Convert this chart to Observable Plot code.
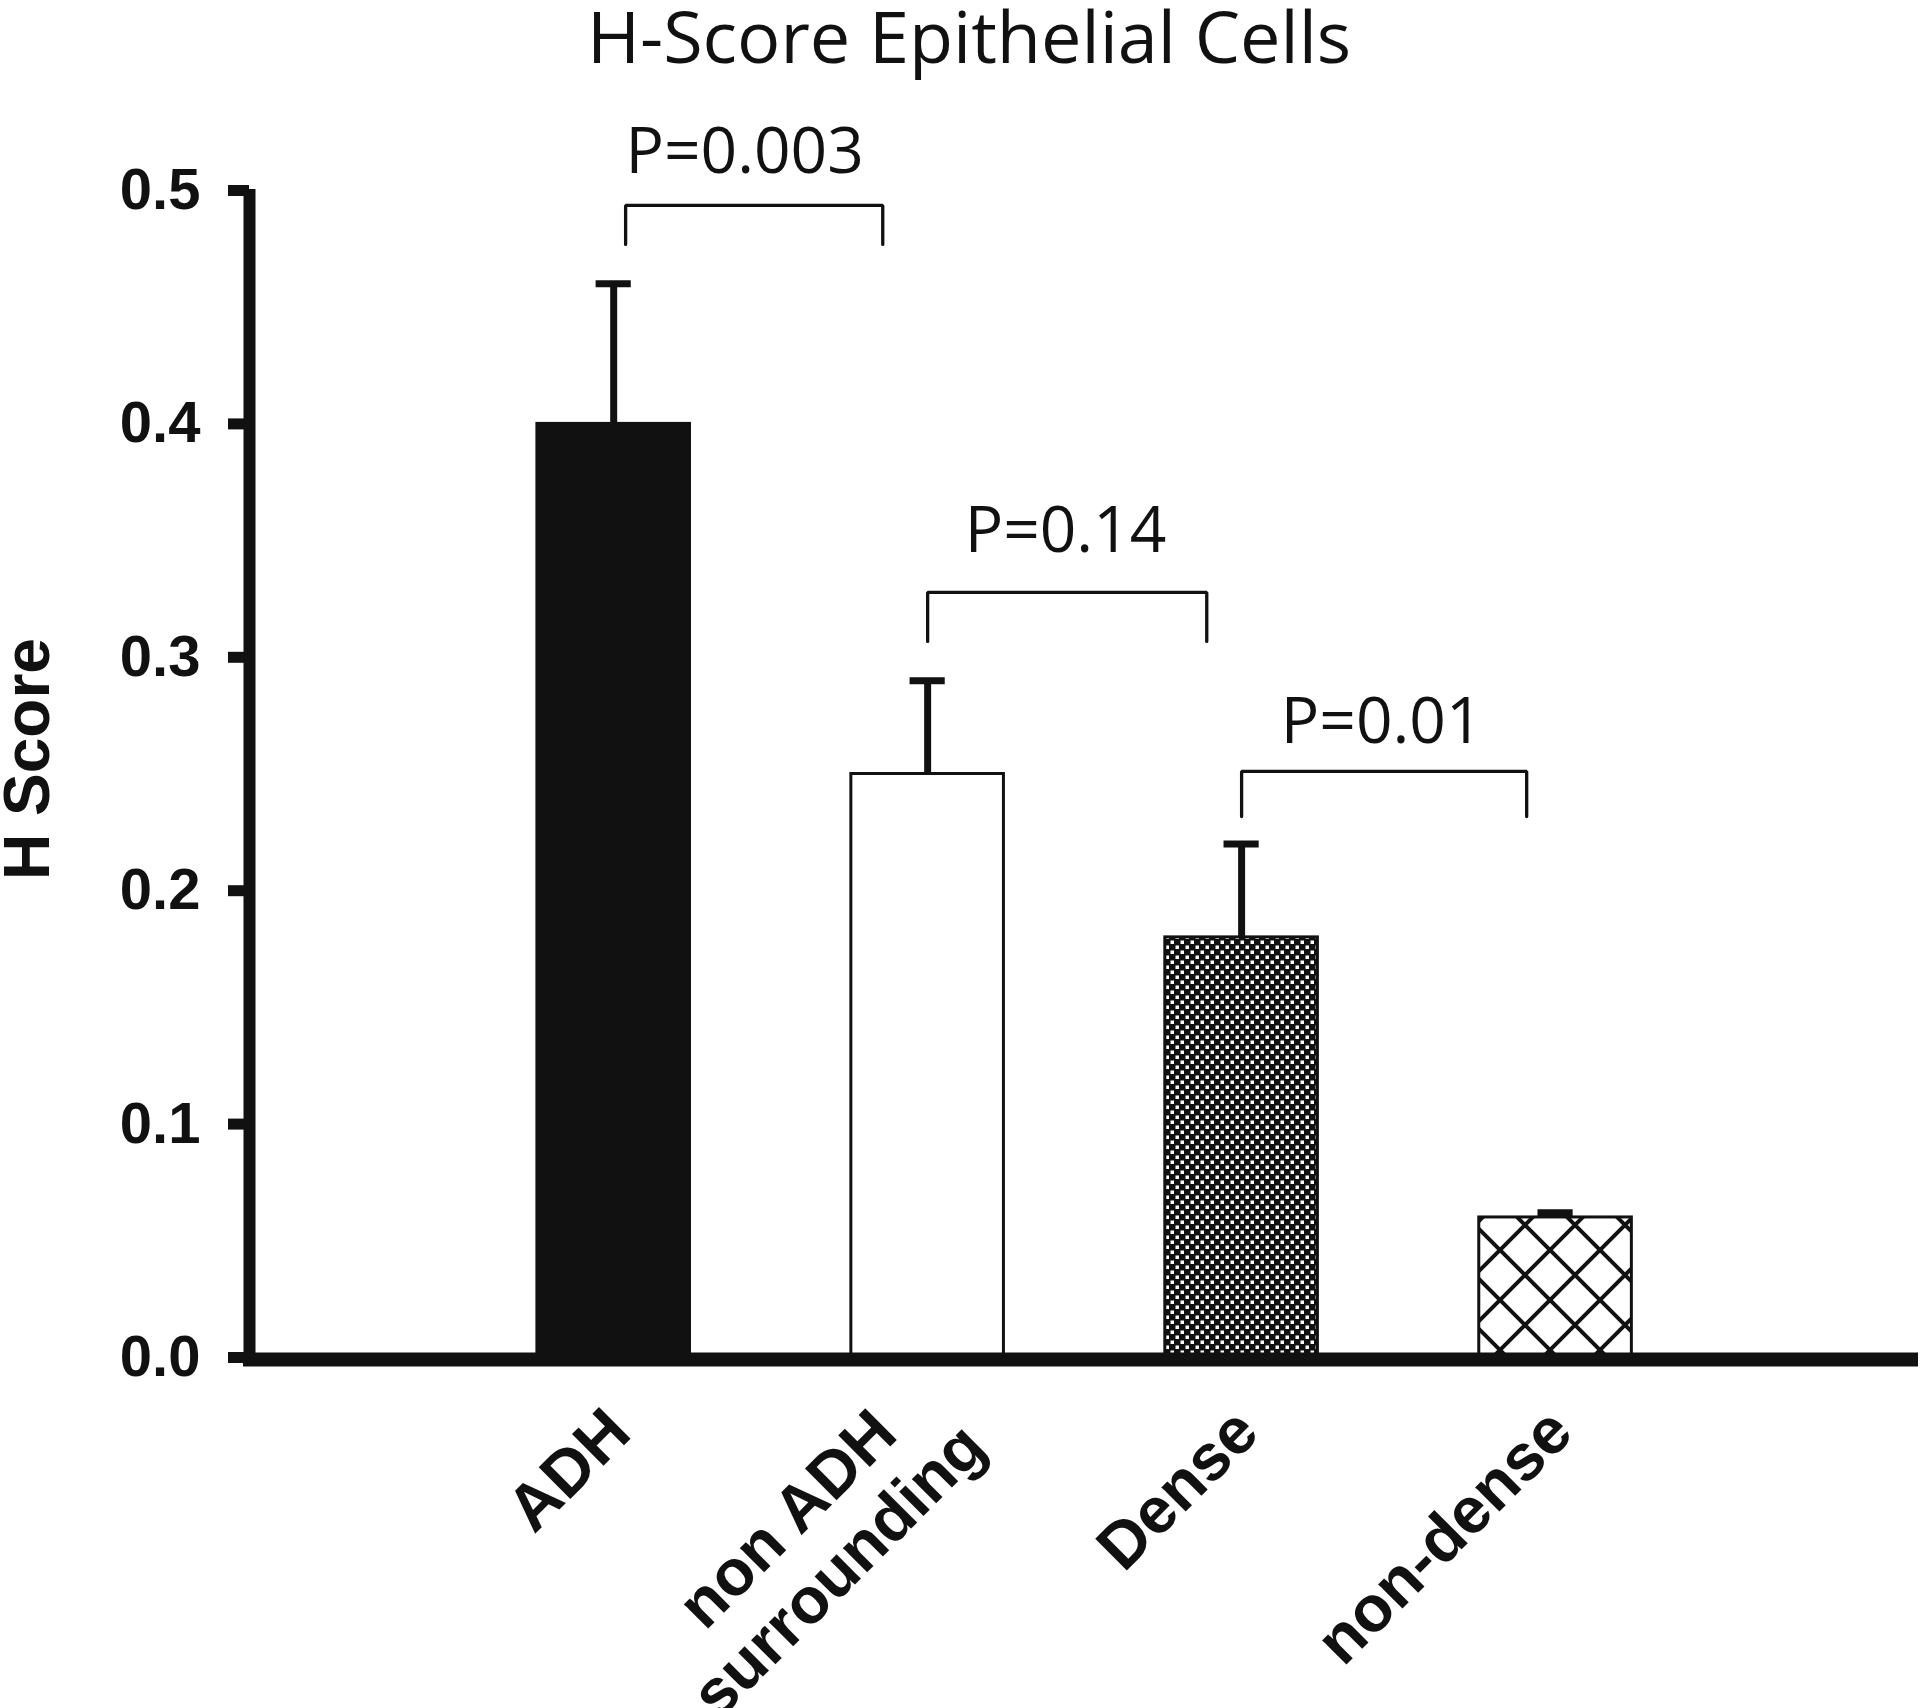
<!DOCTYPE html>
<html>
<head>
<meta charset="utf-8">
<script src="https://cdn.jsdelivr.net/npm/d3@7"></script>
<script src="https://cdn.jsdelivr.net/npm/@observablehq/plot@0.6"></script>
<style>
  body { margin: 0; background: #ffffff; }
  svg { display: block; }
</style>
</head>
<body>
<div id="chart"></div>
<script>
// ---- data ----
const categories = ["ADH", "non ADH\nsurrounding", "Dense", "non-dense"];
const values = [0.40, 0.25, 0.18, 0.06];
const errors = [0.06, 0.04, 0.04, 0.002];
const yTicks = [0, 0.1, 0.2, 0.3, 0.4, 0.5];

// significance brackets (x in category-index units, y in H-score units)
const pLabels = ["P=0.003", "P=0.14", "P=0.01"];
const bracketLeft = [0.038, 1.0, 2.0];
const bracketRight = [0.857, 1.889, 2.908];
const bracketTop = [0.4936, 0.3278, 0.2511];
const bracketBottom = [0.4769, 0.3068, 0.2318];
const pLabelX = [0.417, 1.439, 2.446];
const pLabelY = [0.5163, 0.3537, 0.2721];

const titleText = "H-Score Epithelial Cells";
const yLabelText = "H Score";

// ---- derived tables ----
const bars = categories.map((c, i) => ({cat: c, i, value: values[i], err: errors[i]}));
const brackets = pLabels.map((label, k) => ({
  label, left: bracketLeft[k], right: bracketRight[k], top: bracketTop[k], bottom: bracketBottom[k],
  lx: pLabelX[k], ly: pLabelY[k]
}));
const bracketPoints = brackets.flatMap((b, k) => [
  {k, x: b.left, y: b.bottom},
  {k, x: b.left, y: b.top},
  {k, x: b.right, y: b.top},
  {k, x: b.right, y: b.bottom}
]);

// ---- styles ----
const INK = "#111111";
const fills = [INK, "#ffffff", "url(#densePattern)", "url(#hatchPattern)"];
const BOLD = "Liberation Sans, Arial, sans-serif";
const LIGHT = "Open Sans, Noto Sans, sans-serif";
const BW = 0.243;   // half bar width in category units
const CAP = 0.056;  // half cap width in category units

function patternDefs() {
  const ns = "http://www.w3.org/2000/svg";
  const defs = document.createElementNS(ns, "defs");
  defs.innerHTML = `
    <pattern id="densePattern" patternUnits="userSpaceOnUse" width="10" height="10">
      <rect width="10" height="10" fill="${INK}"/>
      <rect x="0.5" y="0.5" width="3.5" height="3.5" fill="#fff"/>
      <rect x="5.5" y="5.5" width="3.5" height="3.5" fill="#fff"/>
    </pattern>
    <pattern id="hatchPattern" patternUnits="userSpaceOnUse" width="50" height="50">
      <rect width="50" height="50" fill="#fff"/>
      <path d="M0,0L50,50M50,0L0,50M-5,45L5,55M45,-5L55,5M-5,5L5,-5M45,55L55,45"
            stroke="${INK}" stroke-width="4" fill="none"/>
    </pattern>`;
  return defs;
}

const chart = Plot.plot({
  width: 1920,
  height: 1708,
  marginLeft: 249,
  marginRight: 2,
  marginTop: 190,
  marginBottom: 351,
  style: {background: "#ffffff", fontFamily: BOLD, color: INK},
  x: {domain: [-1.16, 4.156], axis: null},
  y: {domain: [0, 0.5], axis: null},
  color: {type: "ordinal", domain: categories, range: fills},
  marks: [
    patternDefs,
    // bars
    Plot.rectY(bars, {
      x1: d => d.i - BW, x2: d => d.i + BW, y1: 0, y2: "value",
      fill: "cat", stroke: INK, strokeWidth: 3
    }),
    // error bars
    Plot.ruleX(bars, {x: "i", y1: "value", y2: d => d.value + d.err, stroke: INK, strokeWidth: 7}),
    Plot.ruleY(bars, {
      y: d => d.value + d.err, x1: d => d.i - CAP, x2: d => d.i + CAP,
      stroke: INK, strokeWidth: 7
    }),
    // brackets
    Plot.line(bracketPoints, {x: "x", y: "y", z: "k", stroke: INK, strokeWidth: 3.3, strokeLinejoin: "miter"}),
    Plot.text(brackets, {
      x: "lx", y: "ly", text: "label", fontSize: 64, fontFamily: LIGHT,
      fill: INK, lineAnchor: "middle", textAnchor: "middle"
    }),
    // y axis ticks + labels
    Plot.axisY({
      ticks: yTicks, tickSize: 21, tickPadding: 28, tickFormat: d3.format(".1f"),
      fontSize: 58, fontWeight: "bold", fontFamily: BOLD, strokeWidth: 11,
      stroke: INK, fill: INK, label: null
    }),
    // axis lines
    Plot.ruleY([0], {stroke: INK, strokeWidth: 14, dy: 2, insetLeft: -6}),
    Plot.ruleX([-1.16], {y1: 0.5, y2: 0, stroke: INK, strokeWidth: 12, insetTop: -1, insetBottom: -9}),
    // x category labels
    Plot.text(bars.filter(d => !d.cat.includes("\n")), {
      x: "i", y: 0, text: "cat", rotate: -45, textAnchor: "end", lineAnchor: "bottom",
      dx: 20, dy: 78, fontSize: 65, fontWeight: "bold", fontFamily: BOLD, fill: INK
    }),
    Plot.text(bars.filter(d => d.cat.includes("\n")), {
      x: "i", y: 0, text: "cat", rotate: -45, textAnchor: "middle", lineAnchor: "middle",
      lineHeight: 1.12, dx: -116, dy: 186, fontSize: 65, fontWeight: "bold", fontFamily: BOLD, fill: INK
    }),
    // y axis title
    Plot.text([yLabelText], {
      text: d => d, frameAnchor: "left", rotate: -90, textAnchor: "middle", lineAnchor: "middle",
      dx: -221, dy: -15, fontSize: 64, fontWeight: "bold", fontFamily: BOLD, fill: INK
    }),
    // chart title
    Plot.text([titleText], {
      text: d => d, frameAnchor: "top", textAnchor: "middle", lineAnchor: "middle",
      dx: -115, dy: -151, fontSize: 72, fontFamily: LIGHT, fill: INK
    })
  ]
});

document.getElementById("chart").appendChild(chart);
</script>
</body>
</html>
